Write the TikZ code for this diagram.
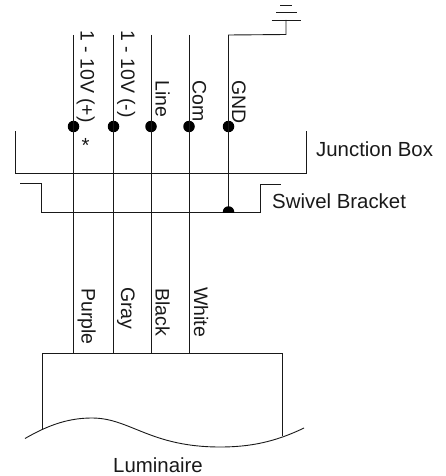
\documentclass[tikz,border=0pt]{standalone}
\usepackage{fontspec}
\setmainfont{Liberation Sans}
\tikzset{
 wire/.style={line width=0.9pt,black!90},
 conn/.style={circle,fill=black,inner sep=0pt,minimum size=11.5pt},
 lab/.style={font=\fontsize{20.4}{24}\selectfont,inner sep=0pt,text=black!90},
 vlab/.style={font=\fontsize{19.5}{24}\selectfont,inner sep=0pt,text=black!90,rotate=-90,anchor=base west},
}
\begin{document}
\begin{tikzpicture}[x=1pt,y=-1pt]
\useasboundingbox (0,0) rectangle (446,476);
% top and bottom wire ends
\foreach \n/\x in {a/73.5,b/113.5,c/151,d/189,e/228.5}{
  \coordinate (top\n) at (\x,35);
  \node[conn] (dot\n) at (\x,126.5) {};
}
\foreach \n/\x in {a/73.5,b/113.5,c/151,d/189}{
  \coordinate (bot\n) at (\x,353.3);
  \draw[wire] (top\n) -- (bot\n);
}
% junction box and bracket
\draw[wire] (15.5,131) -- (15.5,173) -- (306.5,173) -- (306.5,131);
\draw[wire] (20,183.5) -- (41,183.5) -- (41,212) -- (260,212) -- (260,184.5) -- (281,184.5);
% ground
\coordinate (gndend) at (228.5,212);
\coordinate (gndtop) at (286,20);
\draw[wire] (gndend) -- (tope) -- (286,34.5) -- (gndtop);
\begin{scope}
 \clip (215,200) rectangle (242,212);
 \node[conn] (dotf) at (gndend) {};
\end{scope}
\draw[wire] (271.5,20) -- (301,20);
\draw[wire] (276,12.8) -- (297,12.8);
\draw[wire] (280,5) -- (292,5);
% luminaire
\draw[wire] (42,428.7) -- (42,353.3) -- (282.5,353.3) -- (282.5,436);
\draw[wire] (25,438.5) .. controls (50,424) and (70,418) .. (92,418)
  .. controls (130,418) and (150,447) .. (220,447)
  .. controls (250,447) and (275,442) .. (304,428);
% labels
\node[vlab] (l1) at (80.5,30) {1 - 10V (+)};
\node[vlab] (l2) at (121,30) {1 - 10V (-)};
\node[vlab] (l3) at (155.5,80) {Line};
\node[vlab] (l4) at (192.5,80) {Com};
\node[vlab] (l5) at (232,80) {GND};
\node[vlab] (l6) at (81.5,288) {Purple};
\node[vlab] (l7) at (121,287) {Gray};
\node[vlab] (l8) at (155.5,288) {Black};
\node[vlab] (l9) at (194,287) {White};
\node[lab] (star) at (85.5,145) {*};
\node[lab,anchor=base west] (jb) at (316,156.5) {Junction Box};
\node[lab,anchor=base west] (sb) at (272,208) {Swivel Bracket};
\node[lab,anchor=base] (lum) at (158,472) {Luminaire};
\end{tikzpicture}
\end{document}
